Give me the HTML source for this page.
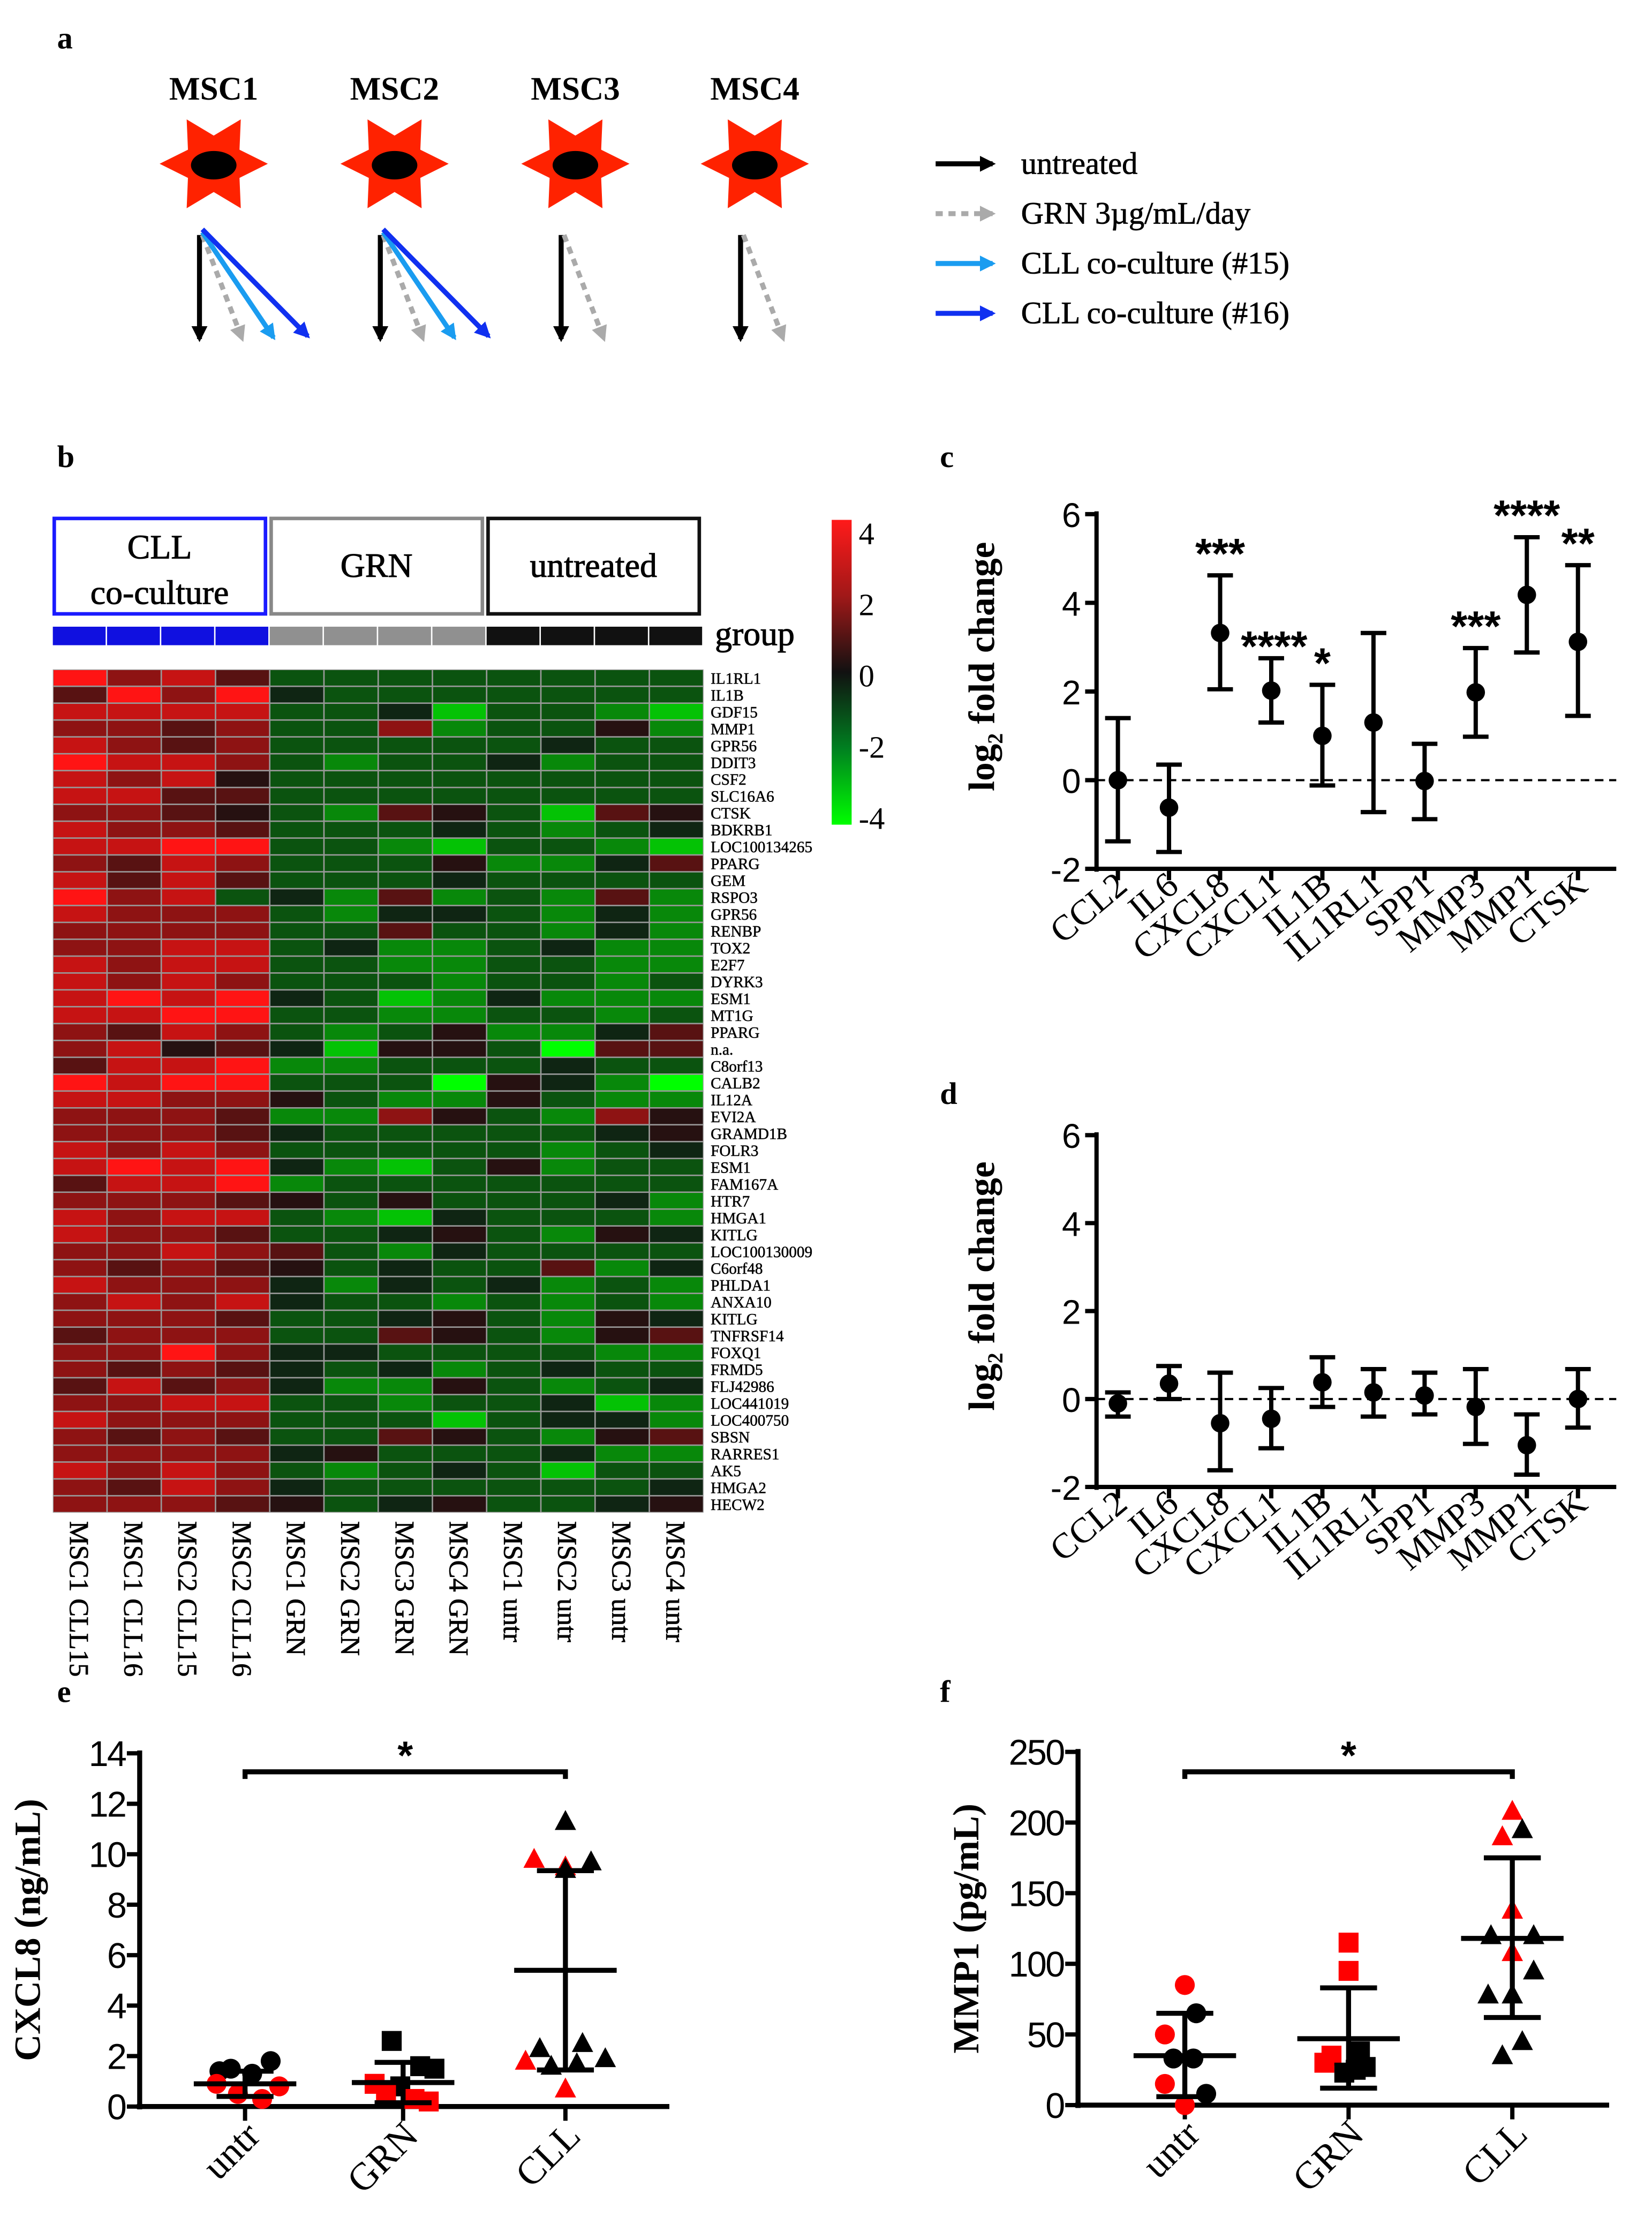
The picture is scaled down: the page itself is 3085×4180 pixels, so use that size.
<!DOCTYPE html>
<html><head><meta charset="utf-8"><style>
html,body{margin:0;padding:0;background:#fff;}
svg{display:block;}
</style></head><body>
<svg id="fig" width="3085" height="4180" viewBox="0 0 1160 1572" xmlns="http://www.w3.org/2000/svg">
<defs>
<marker id="mkb" viewBox="0 0 10 10" refX="8" refY="5" markerWidth="3.2" markerHeight="3.2" orient="auto"><path d="M0,0 L10,5 L0,10 z" fill="#000"/></marker>
<marker id="mkg" viewBox="0 0 10 10" refX="8" refY="5" markerWidth="3.2" markerHeight="3.2" orient="auto"><path d="M0,0 L10,5 L0,10 z" fill="#aaa"/></marker>
<marker id="mkl" viewBox="0 0 10 10" refX="8" refY="5" markerWidth="3.2" markerHeight="3.2" orient="auto"><path d="M0,0 L10,5 L0,10 z" fill="#1a9cf0"/></marker>
<marker id="mkd" viewBox="0 0 10 10" refX="8" refY="5" markerWidth="3.2" markerHeight="3.2" orient="auto"><path d="M0,0 L10,5 L0,10 z" fill="#1030f0"/></marker>
<linearGradient id="cbar" x1="0" y1="0" x2="0" y2="1">
<stop offset="0" stop-color="#ff1a1a"/><stop offset="0.25" stop-color="#a01818"/><stop offset="0.5" stop-color="#111"/><stop offset="0.75" stop-color="#008020"/><stop offset="1" stop-color="#00ff00"/></linearGradient>
</defs>
<g id="root"></g>
</svg>
<script>
// ---------- data ----------
const mscNames=["MSC1","MSC2","MSC3","MSC4"];
const legendLabels=["untreated","GRN 3µg/mL/day","CLL co-culture (#15)","CLL co-culture (#16)"];
const groupLabels=["CLL\nco-culture","GRN","untreated"];
const colLabels=["MSC1 CLL15","MSC1 CLL16","MSC2 CLL15","MSC2 CLL16","MSC1 GRN","MSC2 GRN","MSC3 GRN","MSC4 GRN","MSC1 untr","MSC2 untr","MSC3 untr","MSC4 untr"];
const geneLabels=["IL1RL1","IL1B","GDF15","MMP1","GPR56","DDIT3","CSF2","SLC16A6","CTSK","BDKRB1","LOC100134265","PPARG","GEM","RSPO3","GPR56","RENBP","TOX2","E2F7","DYRK3","ESM1","MT1G","PPARG","n.a.","C8orf13","CALB2","IL12A","EVI2A","GRAMD1B","FOLR3","ESM1","FAM167A","HTR7","HMGA1","KITLG","LOC100130009","C6orf48","PHLDA1","ANXA10","KITLG","TNFRSF14","FOXQ1","FRMD5","FLJ42986","LOC441019","LOC400750","SBSN","RARRES1","AK5","HMGA2","HECW2"];
// heatmap rows: digit d -> value (d-4.5)*8/9
const heatRows=[
"978633333333","697943333333","888833413321","776733723352","876733333433","988732334233",
"878533333333","886633333333","776532653165","877633343234","889933213321","768733352246",
"868633343333","978342623262","877732443242","777733633242","778834223422","878833223322",
"878733323323","898943124222","889933223323","768732352246","785641553066","688922333433",
"989933305420","887753225322","777622753275","777643333345","878733333234","898942135233",
"688923333333","777653533342","878832143332","877633453254","778763243333","767653433624",
"877742434232","787843323232","777633453254","677733653256","779744333322","767643423433",
"686742253234","778833233412","877733313442","767633653256","777745333422","878732343133",
"768743333334","777653453345"];
// panel c / d: log2 fold change
const genes=["CCL2","IL6","CXCL8","CXCL1","IL1B","IL1RL1","SPP1","MMP3","MMP1","CTSK"];
const cMean=[0,-0.62,3.32,2.02,1.0,1.3,-0.02,1.98,4.18,3.12];
const cLow=[-1.38,-1.62,2.05,1.3,-0.12,-0.72,-0.88,0.98,2.88,1.45];
const cHigh=[1.4,0.35,4.62,2.75,2.15,3.32,0.82,2.98,5.48,4.85];
const cSig=["","","***","****","*","","","***","****","**"];
const dMean=[-0.1,0.35,-0.55,-0.45,0.38,0.15,0.08,-0.18,-1.05,0.0];
const dLow=[-0.4,0.0,-1.62,-1.12,-0.18,-0.4,-0.35,-1.02,-1.72,-0.65];
const dHigh=[0.15,0.75,0.6,0.25,0.95,0.68,0.6,0.68,-0.35,0.68];
const lfcTicks=[-2,0,2,4,6];
// panel e
const eGroups=["untr","GRN","CLL"];
const eTicks=[0,2,4,6,8,10,12,14];
const eMean=[0.9,0.95,5.4];const eLow=[0.4,0.15,1.45];const eHigh=[1.4,1.75,9.35];
const eUntrVals=[1.8,1.5,1.3,1.4,0.9,0.5,0.3,0.8];const eUntrRed=[0,0,0,0,1,1,1,1];const eUntrOff=[18,-10,5,-18,-20,-5,12,24];
const eGrnVals=[2.6,1.6,1.5,0.8,0.9,0.5,0.3,0.2];const eGrnRed=[0,0,0,0,1,1,1,1];const eGrnOff=[-8,12,22,-2,-20,-12,8,18];
const eCllVals=[11.3,9.8,9.7,9.5,2.3,1.9,1.8,1.7,0.7,1.6,2.5,9.4];const eCllRed=[0,1,0,1,0,0,1,0,1,0,0,0];const eCllOff=[0,-22,18,0,-18,28,-28,8,0,-10,12,0];
// panel f
const fTicks=[0,50,100,150,200,250];
const fMean=[35,47,118];const fLow=[6,12,62];const fHigh=[65,83,175];
const fUntrVals=[85,65,50,33,33,15,8,0];const fUntrRed=[1,0,1,0,0,1,0,1];const fUntrOff=[0,8,-14,-8,6,-14,15,0];
const fGrnVals=[115,95,35,30,38,23,27,25];const fGrnRed=[1,1,1,1,0,0,0,0];const fGrnOff=[0,0,-12,-17,8,-3,12,5];
const fCllVals=[208,190,195,138,120,120,108,95,78,78,45,35];const fCllRed=[1,1,0,1,0,0,1,0,0,0,0,0];const fCllOff=[0,-7,7,0,-15,15,0,15,-17,0,7,-7];

// ---------- helpers ----------
const NS="http://www.w3.org/2000/svg";
const root=document.getElementById("root");
function el(tag,attrs,parent){const e=document.createElementNS(NS,tag);for(const k in attrs)e.setAttribute(k,attrs[k]);(parent||root).appendChild(e);return e;}
function txt(s,x,y,size,extra,parent){const t=el("text",Object.assign({x:x,y:y,"font-size":size,"font-family":"Liberation Serif, serif"},extra||{}),parent);t.textContent=s;return t;}

// ---------- panel labels ----------
[["a",40,34],["b",40,328],["c",660,328],["d",660,775],["e",40,1195],["f",660,1195]].forEach(p=>{
 const t=txt(p[0],p[1],p[2],22,{"font-weight":"bold"});
 
 
});

// ---------- panel a ----------
const mscX=[150,277,404,530];
mscNames.forEach((n,i)=>{
 const g=el("g",{});
 
 
 txt(n,mscX[i],70,23,{"font-weight":"bold","text-anchor":"middle"},g);
 let pts=[];for(let k=0;k<12;k++){const a=Math.PI/6*k;const r=k%2?22:40;pts.push((mscX[i]+r*Math.cos(a)*0.95).toFixed(1)+","+(115+r*Math.sin(a)*0.9).toFixed(1));}
 el("polygon",{points:pts.join(" "),fill:"#ff2200"},g);
 el("ellipse",{cx:mscX[i],cy:116,rx:16,ry:10,fill:"#000"},g);
 const x0=mscX[i]-10;
 el("line",{x1:x0,y1:165,x2:x0,y2:238,stroke:"#000","stroke-width":3.5,"marker-end":"url(#mkb)"},g);
 el("line",{x1:x0+2,y1:165,x2:x0+30,y2:238,stroke:"#aaa","stroke-width":3.5,"stroke-dasharray":"5,4","marker-end":"url(#mkg)"},g);
 if(i<2){
  el("line",{x1:x0+2,y1:163,x2:x0+52,y2:237,stroke:"#1a9cf0","stroke-width":3.5,"marker-end":"url(#mkl)"},g);
  el("line",{x1:x0+2,y1:161,x2:x0+76,y2:236,stroke:"#1030f0","stroke-width":3.5,"marker-end":"url(#mkd)"},g);
 }
});
const legStyles=[["#000","","url(#mkb)"],["#aaa","5,4","url(#mkg)"],["#1a9cf0","","url(#mkl)"],["#1030f0","","url(#mkd)"]];
legendLabels.forEach((l,i)=>{
 const g=el("g",{});
 
 
 const y=115+i*35;
 const a={x1:657,y1:y,x2:697,y2:y,stroke:legStyles[i][0],"stroke-width":3.5,"marker-end":legStyles[i][2]};
 if(legStyles[i][1])a["stroke-dasharray"]=legStyles[i][1];
 el("line",a,g);
 txt(l,717,y+7,22,{"stroke":"#000","stroke-width":0.3},g);
});

// ---------- panel b: heatmap ----------
const hx0=37,hx1=494,hy0=470,hy1=1062;
const cw=(hx1-hx0)/12, rh=(hy1-hy0)/heatRows.length;
function heatColor(v){
 const t=Math.max(-1,Math.min(1,v/4));
 if(t>=0){const p=Math.pow(t,1.1);return "rgb("+Math.round(17+238*p)+","+Math.round(17+3*p)+","+Math.round(17+3*p)+")";}
 const s=-t,p=Math.pow(s,1.2);return "rgb("+Math.round(17-17*s)+","+Math.round(20+235*p)+","+Math.round(20*(1-p))+")";
}
const hg=el("g",{});


el("rect",{x:hx0,y:hy0,width:hx1-hx0,height:hy1-hy0,fill:"#999"},hg);
heatRows.forEach((row,r)=>{
 for(let c=0;c<12;c++){
  const v=((+row[c])-4.5)*8/9;
  const rc=el("rect",{x:(hx0+c*cw+0.5).toFixed(2),y:(hy0+r*rh+0.5).toFixed(2),width:(cw-1).toFixed(2),height:(rh-1).toFixed(2),fill:heatColor(v)},hg);
  
  
 }
});
const boxCol=["#1a1aff","#888","#111"];
groupLabels.forEach((g,i)=>{
 const gg=el("g",{});
 
 
 const bx=hx0+i*4*cw+1;
 el("rect",{x:bx,y:364,width:4*cw-4,height:67,fill:"none",stroke:boxCol[i],"stroke-width":2.5},gg);
 const lines=g.split("\n");
 const ex={"text-anchor":"middle","stroke":"#000","stroke-width":0.4};
 if(lines.length==2){txt(lines[0],bx+74,392,24,ex,gg);txt(lines[1],bx+74,424,24,ex,gg);}
 else txt(g,bx+74,405,24,ex,gg);
 for(let c=0;c<4;c++){el("rect",{x:hx0+(i*4+c)*cw,y:440,width:cw-1,height:13,fill:["#1010e0","#909090","#111"][i]},gg);}
});
const grp=txt("group",502,453,24,{"stroke":"#000","stroke-width":0.4});


geneLabels.forEach((g,i)=>{
 const t=txt(g,499,hy0+10+i*rh,11,{"stroke":"#000","stroke-width":0.2});
 
 
});
colLabels.forEach((c,i)=>{
 const x=hx0+cw*(i+0.5)-7;
 const t=txt(c,x,1068,19,{transform:"rotate(90 "+x+" 1068)","stroke":"#000","stroke-width":0.3});
 
 
});
const cb=el("rect",{x:584,y:365,width:14,height:214,fill:"url(#cbar)"});


[4,2,0,-2,-4].forEach((v,i)=>{
 const t=txt(String(v),603,382+i*50,22,{});
 
 
});

// ---------- panels c/d ----------
function lfcPanel(name,y6,y2,mean,low,high,sig){
 const g=el("g",{});
 
 
 const x0=770,x1=1135;
 const ys=v=>y2-(v+2)*(y2-y6)/8;
 const xs=i=>785+i*35.9;
 el("line",{x1:x0,y1:y6-2,x2:x0,y2:y2+2,stroke:"#000","stroke-width":3},g);
 el("line",{x1:x0-1.5,y1:y2,x2:x1,y2:y2,stroke:"#000","stroke-width":3},g);
 lfcTicks.forEach(t=>{
  el("line",{x1:x0-8,y1:ys(t),x2:x0,y2:ys(t),stroke:"#000","stroke-width":3},g);
  const tt=txt(String(t),x0-11,ys(t)+9,24,{"text-anchor":"end","font-family":"Liberation Sans, sans-serif"},g);
  
  
 });
 el("line",{x1:x0,y1:ys(0),x2:x1,y2:ys(0),stroke:"#000","stroke-width":1.5,"stroke-dasharray":"6,4"},g);
 const cy=(y6+y2)/2+70;
 const yt=txt("log",698,cy,26,{"font-weight":"bold",transform:"rotate(-90 698 "+cy+")"},g);
 const tspan=el("tspan",{"font-size":15,dy:6},yt);tspan.textContent="2";
 const ts2=el("tspan",{dy:-6},yt);ts2.textContent=" fold change";
 
 
 genes.forEach((n,i)=>{
  const x=xs(i);
  el("line",{x1:x,y1:y2,x2:x,y2:y2+8,stroke:"#000","stroke-width":3},g);
  const lb=txt(n,x+8,y2+14,25,{"text-anchor":"end",transform:"rotate(-40 "+(x+8)+" "+(y2+14)+")"},g);
  
  
  const eb=el("g",{},g);
  
  
  el("line",{x1:x,y1:ys(low[i]),x2:x,y2:ys(high[i]),stroke:"#000","stroke-width":3},eb);
  el("line",{x1:x-9,y1:ys(low[i]),x2:x+9,y2:ys(low[i]),stroke:"#000","stroke-width":3},eb);
  el("line",{x1:x-9,y1:ys(high[i]),x2:x+9,y2:ys(high[i]),stroke:"#000","stroke-width":3},eb);
  el("circle",{cx:x,cy:ys(mean[i]),r:6.5,fill:"#000"},eb);
  if(sig&&sig[i]){
   const s=txt(sig[i],x,ys(high[i])-5,30,{"text-anchor":"middle","font-family":"Liberation Sans, sans-serif","font-weight":"bold"},g);
   if(i==3){s.setAttribute("x",x+2);s.setAttribute("y",ys(high[i])+2);}
   
   
  }
 });
}
lfcPanel("chart-c",361,610,cMean,cLow,cHigh,cSig);
lfcPanel("chart-d",797,1044,dMean,dLow,dHigh,null);

// ---------- panels e/f ----------
function scatterPanel(name,x0,x1,yTop,y0,ticks,groupX,title,means,lows,highs,sets,sigY){
 const g=el("g",{});
 
 
 const maxT=ticks[ticks.length-1];
 const ys=v=>y0-v*(y0-yTop)/maxT;
 el("line",{x1:x0,y1:yTop-2,x2:x0,y2:y0+2,stroke:"#000","stroke-width":3.5},g);
 el("line",{x1:x0-2,y1:y0,x2:x1,y2:y0,stroke:"#000","stroke-width":3.5},g);
 ticks.forEach(t=>{
  el("line",{x1:x0-9,y1:ys(t),x2:x0,y2:ys(t),stroke:"#000","stroke-width":3},g);
  const tt=txt(String(t),x0-10,ys(t)+9,25,{"text-anchor":"end","font-family":"Liberation Sans, sans-serif","letter-spacing":"-1"},g);
  
  
 });
 const ty=(yTop+y0)/2;
 const yt=txt(title,x0-70,ty,26,{"font-weight":"bold","text-anchor":"middle",transform:"rotate(-90 "+(x0-70)+" "+ty+")"},g);
 
 
 eGroups.forEach((n,i)=>{
  const x=groupX[i];
  el("line",{x1:x,y1:y0,x2:x,y2:y0+10,stroke:"#000","stroke-width":3},g);
  const lb=txt(n,x+12,y0+22,27,{"text-anchor":"end",transform:"rotate(-45 "+(x+12)+" "+(y0+22)+")"},g);
  
  
 });
 sets.forEach((s,i)=>{
  const x=groupX[i];
  s.vals.forEach((v,j)=>{
   const px=x+s.off[j],py=ys(v),col=s.red[j]?"#ff0000":"#000";
   let m;
   if(i==0)m=el("circle",{cx:px,cy:py,r:7,fill:col},g);
   else if(i==1)m=el("rect",{x:px-7,y:py-7,width:14,height:14,fill:col},g);
   else m=el("polygon",{points:px+","+(py-8)+" "+(px+7.5)+","+(py+6)+" "+(px-7.5)+","+(py+6),fill:col},g);
   
   
  });
  const eb=el("g",{},g);
  
  
  el("line",{x1:x,y1:ys(lows[i]),x2:x,y2:ys(highs[i]),stroke:"#000","stroke-width":3.5},eb);
  el("line",{x1:x-20,y1:ys(lows[i]),x2:x+20,y2:ys(lows[i]),stroke:"#000","stroke-width":3.5},eb);
  el("line",{x1:x-20,y1:ys(highs[i]),x2:x+20,y2:ys(highs[i]),stroke:"#000","stroke-width":3.5},eb);
  el("line",{x1:x-36,y1:ys(means[i]),x2:x+36,y2:ys(means[i]),stroke:"#000","stroke-width":3.5},eb);
 });
 const sb=el("path",{d:"M"+groupX[0]+","+(sigY+5)+" V"+sigY+" H"+groupX[2]+" V"+(sigY+5),fill:"none",stroke:"#000","stroke-width":3.5},g);
 
 
 const st=txt("*",(groupX[0]+groupX[2])/2,sigY-2,28,{"text-anchor":"middle","font-family":"Liberation Sans, sans-serif","font-weight":"bold"},g);
 
 
}
scatterPanel("chart-e",98,470,1231,1479,eTicks,[172,283,397],"CXCL8 (ng/mL)",eMean,eLow,eHigh,
 [{vals:eUntrVals,red:eUntrRed,off:eUntrOff},{vals:eGrnVals,red:eGrnRed,off:eGrnOff},{vals:eCllVals,red:eCllRed,off:eCllOff}],1244);
scatterPanel("chart-f",757,1130,1230,1478,fTicks,[832,947,1062],"MMP1 (pg/mL)",fMean,fLow,fHigh,
 [{vals:fUntrVals,red:fUntrRed,off:fUntrOff},{vals:fGrnVals,red:fGrnRed,off:fGrnOff},{vals:fCllVals,red:fCllRed,off:fCllOff}],1244);
</script>
</body></html>
